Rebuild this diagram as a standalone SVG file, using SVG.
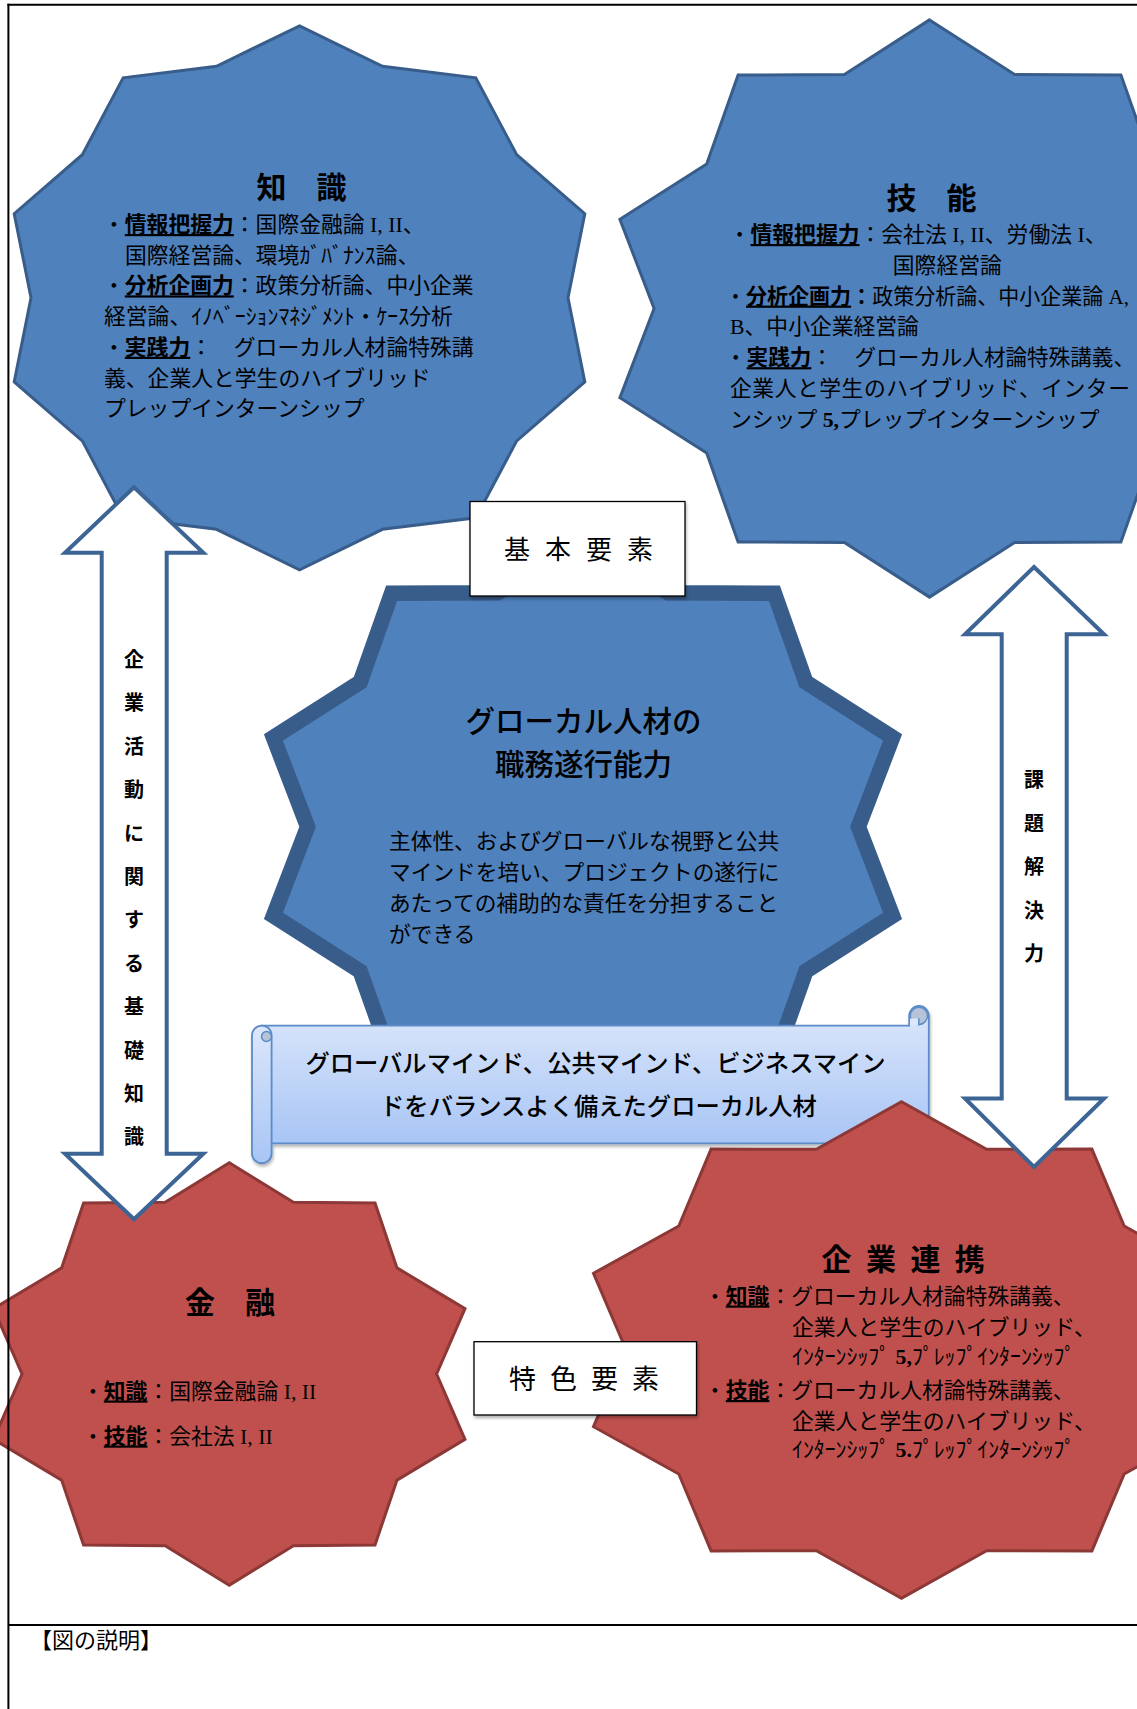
<svg xmlns="http://www.w3.org/2000/svg" width="1137" height="1709" viewBox="0 0 1137 1709">
<defs>
<style>
.blue{fill:#4F81BD;stroke:#385D8A;stroke-width:3;stroke-linejoin:miter}
.red{fill:#C0504D;stroke:#8C3836;stroke-width:3;stroke-linejoin:miter}
.cstar{fill:#4F81BD;stroke:#385D8A;stroke-width:15.5;stroke-linejoin:miter}
.arrow{fill:#FFFFFF;stroke:#3C6494;stroke-width:4;stroke-linejoin:miter}
.body{font-family:'Liberation Serif','Noto Sans CJK JP',serif;font-size:21.8px;fill:#000}
.title{font-family:'Noto Sans CJK JP',sans-serif;font-size:30px;font-weight:bold;fill:#000;text-anchor:middle}
.titles{font-family:'Noto Sans CJK JP',sans-serif;font-size:30px;font-weight:bold;fill:#000}
.u{font-weight:bold;text-decoration:underline}
.b{font-weight:bold}
.label{font-family:'Noto Sans CJK JP',sans-serif;fill:#000}
.vt{font-family:'Noto Sans CJK JP',sans-serif;font-size:20px;font-weight:bold;fill:#000;text-anchor:middle}
.ctitle{font-family:'Noto Sans CJK JP',sans-serif;font-size:29.5px;font-weight:500;fill:#000;text-anchor:middle}
.scrolltxt{font-family:'Noto Sans CJK JP',sans-serif;font-size:24.3px;font-weight:500;fill:#000;text-anchor:middle}
.box{fill:#FFFFFF;stroke:#000;stroke-width:1.3}
.scroll{fill:url(#scrollGrad);stroke:#5B8CC8;stroke-width:1.8}
</style>
<linearGradient id="scrollGrad" x1="0" y1="0" x2="0" y2="1">
<stop offset="0" stop-color="#DCE7FB"/>
<stop offset="1" stop-color="#A8C5F5"/>
</linearGradient>
<filter id="shadow" x="-5%" y="-10%" width="110%" height="130%">
<feDropShadow dx="1" dy="2.5" stdDeviation="1.8" flood-color="#000" flood-opacity="0.3"/>
</filter>
</defs>

<g id="node-knowledge">
<polygon class="blue" points="299.5,25.8 382.5,66.3 475.8,77.8 516.7,154.7 584.8,213.7 568,297.8 584.8,381.9 516.7,440.9 475.8,517.8 382.5,529.3 299.5,569.8 216.5,529.3 123.2,517.8 82.3,440.9 14.2,381.9 31,297.8 14.2,213.7 82.3,154.7 123.2,77.8 216.5,66.3"/>
<text class="title" x="301.4" y="198">知　識</text>
<text class="body" x="103" y="232">・<tspan class="u">情報把握力</tspan>：国際金融論 I, II、</text>
<text class="body" x="125" y="262.7">国際経営論、環境ｶﾞﾊﾞﾅﾝｽ論、</text>
<text class="body" x="103" y="293.4">・<tspan class="u">分析企画力</tspan>：政策分析論、中小企業</text>
<text class="body" x="104" y="324.1">経営論、ｲﾉﾍﾞｰｼｮﾝﾏﾈｼﾞﾒﾝﾄ・ｹｰｽ分析</text>
<text class="body" x="103" y="354.8">・<tspan class="u">実践力</tspan>：　グローカル人材論特殊講</text>
<text class="body" x="104" y="385.5">義、企業人と学生のハイブリッド</text>
<text class="body" x="104" y="416.2">プレップインターンシップ</text>
</g>

<g id="node-skill">
<polygon class="blue" points="929.5,19.9 1014.6,74.5 1120.9,75 1152.3,163.9 1239.1,219.3 1204.9,308.5 1239.1,397.7 1152.3,453.1 1120.9,542 1014.6,542.5 929.5,597.1 844.4,542.5 738.1,542 706.7,453.1 619.9,397.7 654.1,308.5 619.9,219.3 706.7,163.9 738.1,75 844.4,74.5"/>
<text class="title" x="931.4" y="209">技　能</text>
<text class="body" x="728.7" y="242">・<tspan class="u">情報把握力</tspan>：会社法 I, II、労働法 I、</text>
<text class="body" x="892.8" y="272.8">国際経営論</text>
<text class="body" x="725" y="303.6" textLength="404" lengthAdjust="spacingAndGlyphs">・<tspan class="u">分析企画力</tspan><tspan class="b">：</tspan>政策分析論、中小企業論 A,</text>
<text class="body" x="730" y="334.4">B、中小企業経営論</text>
<text class="body" x="725" y="365.2" textLength="410" lengthAdjust="spacingAndGlyphs">・<tspan class="u">実践力</tspan>：　グローカル人材論特殊講義、</text>
<text class="body" x="730" y="396" textLength="400" lengthAdjust="spacing">企業人と学生のハイブリッド、インター</text>
<text class="body" x="730" y="426.8">ンシップ <tspan class="b">5,</tspan>プレップインターンシップ</text>
</g>

<g id="node-core">
<polygon class="cstar" points="583,538.1 668.1,592.7 774.4,593.2 805.8,682.1 892.6,737.5 858.4,826.7 892.6,915.9 805.8,971.3 774.4,1060.2 668.1,1060.7 583,1115.3 497.9,1060.7 391.6,1060.2 360.2,971.3 273.4,915.9 307.6,826.7 273.4,737.5 360.2,682.1 391.6,593.2 497.9,592.7"/>
<text class="ctitle" x="583.5" y="732">グローカル人材の</text>
<text class="ctitle" x="583.5" y="775">職務遂行能力</text>
<text class="body" style="font-size:21.7px" x="389" y="849">主体性、およびグローバルな視野と公共</text>
<text class="body" style="font-size:21.7px" x="389" y="880">マインドを培い、プロジェクトの遂行に</text>
<text class="body" style="font-size:21.7px" x="389" y="911">あたっての補助的な責任を分担すること</text>
<text class="body" style="font-size:21.7px" x="389" y="942">ができる</text>
</g>

<g id="node-basic-label">
<rect class="box" x="470" y="501.5" width="215" height="94.5" filter="url(#shadow)"/>
<text class="label" style="font-size:26px" x="504 545 586 627" y="559">基本要素</text>
</g>

<g id="node-scroll">
<g filter="url(#shadow)">
<path class="scroll" d="M261.8,1025.6 H909.2 V1015.8 A9.8,9.8 0 0 1 928.8,1015.8 V1133.6 A9.8,9.8 0 0 1 919,1143.4 H261.8 Z"/>
<rect class="scroll" x="252" y="1025.6" width="19.6" height="137.6" rx="9.8" ry="9.8"/>
</g>
<circle cx="266.5" cy="1036.5" r="5" fill="#B7C3D7" stroke="#5B8CC8" stroke-width="1.5"/>
<circle cx="918.9" cy="1015.8" r="8.6" fill="#B7C3D7" stroke="#5B8CC8" stroke-width="1.5"/>
<rect x="910" y="1018.5" width="8.8" height="7" fill="#DCE7FB"/>
<line x1="918.8" y1="1018.3" x2="918.8" y2="1025.6" stroke="#5B8CC8" stroke-width="1.5"/>
<text class="scrolltxt" x="595.5" y="1072">グローバルマインド、公共マインド、ビジネスマイン</text>
<text class="scrolltxt" x="598.5" y="1115">ドをバランスよく備えたグローカル人材</text>
</g>

<g id="node-finance">
<polygon class="red" points="229.3,1162.8 293.4,1202.3 375,1203.1 397,1267.9 465,1308.7 436.6,1374 465,1439.3 397,1480.1 375,1544.9 293.4,1545.7 229.3,1585.2 165.2,1545.7 83.6,1544.9 61.6,1480.1 -6.4,1439.3 22,1374 -6.4,1308.7 61.6,1267.9 83.6,1203.1 165.2,1202.3"/>
<text class="title" x="230" y="1313">金　融</text>
<text class="body" x="82" y="1398.5">・<tspan class="u">知識</tspan>：国際金融論 I, II</text>
<text class="body" x="82" y="1443.5">・<tspan class="u">技能</tspan>：会社法 I, II</text>
</g>

<g id="node-industry">
<polygon class="red" points="901.5,1101.7 986.6,1149.3 1091.9,1149.1 1124.2,1226 1209.5,1273.3 1176.8,1350 1209.5,1426.7 1124.2,1474 1091.9,1550.9 986.6,1550.7 901.5,1598.3 816.4,1550.7 711.1,1550.9 678.8,1474 593.5,1426.7 626.2,1350 593.5,1273.3 678.8,1226 711.1,1149.1 816.4,1149.3"/>
<text class="titles" x="821.6 866 910.4 954.8" y="1270">企業連携</text>
<text class="body" x="704" y="1303.5">・<tspan class="u">知識</tspan>：グローカル人材論特殊講義、</text>
<text class="body" x="792" y="1335">企業人と学生のハイブリッド、</text>
<text class="body" x="792" y="1364">ｲﾝﾀｰﾝｼｯﾌﾟ <tspan class="b">5,</tspan>ﾌﾟﾚｯﾌﾟｲﾝﾀｰﾝｼｯﾌﾟ</text>
<text class="body" x="704" y="1398">・<tspan class="u">技能</tspan>：グローカル人材論特殊講義、</text>
<text class="body" x="792" y="1428.5">企業人と学生のハイブリッド、</text>
<text class="body" x="792" y="1457">ｲﾝﾀｰﾝｼｯﾌﾟ <tspan class="b">5.</tspan>ﾌﾟﾚｯﾌﾟｲﾝﾀｰﾝｼｯﾌﾟ</text>
</g>

<g id="node-feature-label">
<rect class="box" x="474" y="1341.7" width="222.5" height="73.3" filter="url(#shadow)"/>
<text class="label" style="font-size:27px" x="509 550 591 632" y="1388.5">特色要素</text>
</g>

<g id="connectors">
<path class="arrow" d="M134,487.3 L203.3,552.7 L166.7,552.7 L166.7,1153.8 L203.3,1153.8 L134,1219.2 L65,1153.8 L101.7,1153.8 L101.7,552.7 L65,552.7 Z"/>
<text class="vt" x="134 134 134 134 134 134 134 134 134 134 134 134" y="667 710.4 753.8 797.2 840.6 884 927.4 970.8 1014.2 1057.6 1101 1144.4">企業活動に関する基礎知識</text>
<path class="arrow" d="M1034,567 L1104,634.3 L1066.7,634.3 L1066.7,1098.5 L1104,1098.5 L1034,1167 L965,1098.5 L1001.7,1098.5 L1001.7,634.3 L965,634.3 Z"/>
<text class="vt" x="1034 1034 1034 1034 1034" y="787 830.5 874 917.5 961">課題解決力</text>
</g>

<g id="frame" fill="none" stroke="#000" stroke-width="2">
<line x1="7.4" y1="4.8" x2="1137" y2="4.8"/>
<line x1="8.4" y1="3.8" x2="8.4" y2="1709"/>
<line x1="8.4" y1="1625" x2="1137" y2="1625"/>
</g>
<text class="label" style="font-size:22px" x="30" y="1648">【図の説明】</text>
</svg>
